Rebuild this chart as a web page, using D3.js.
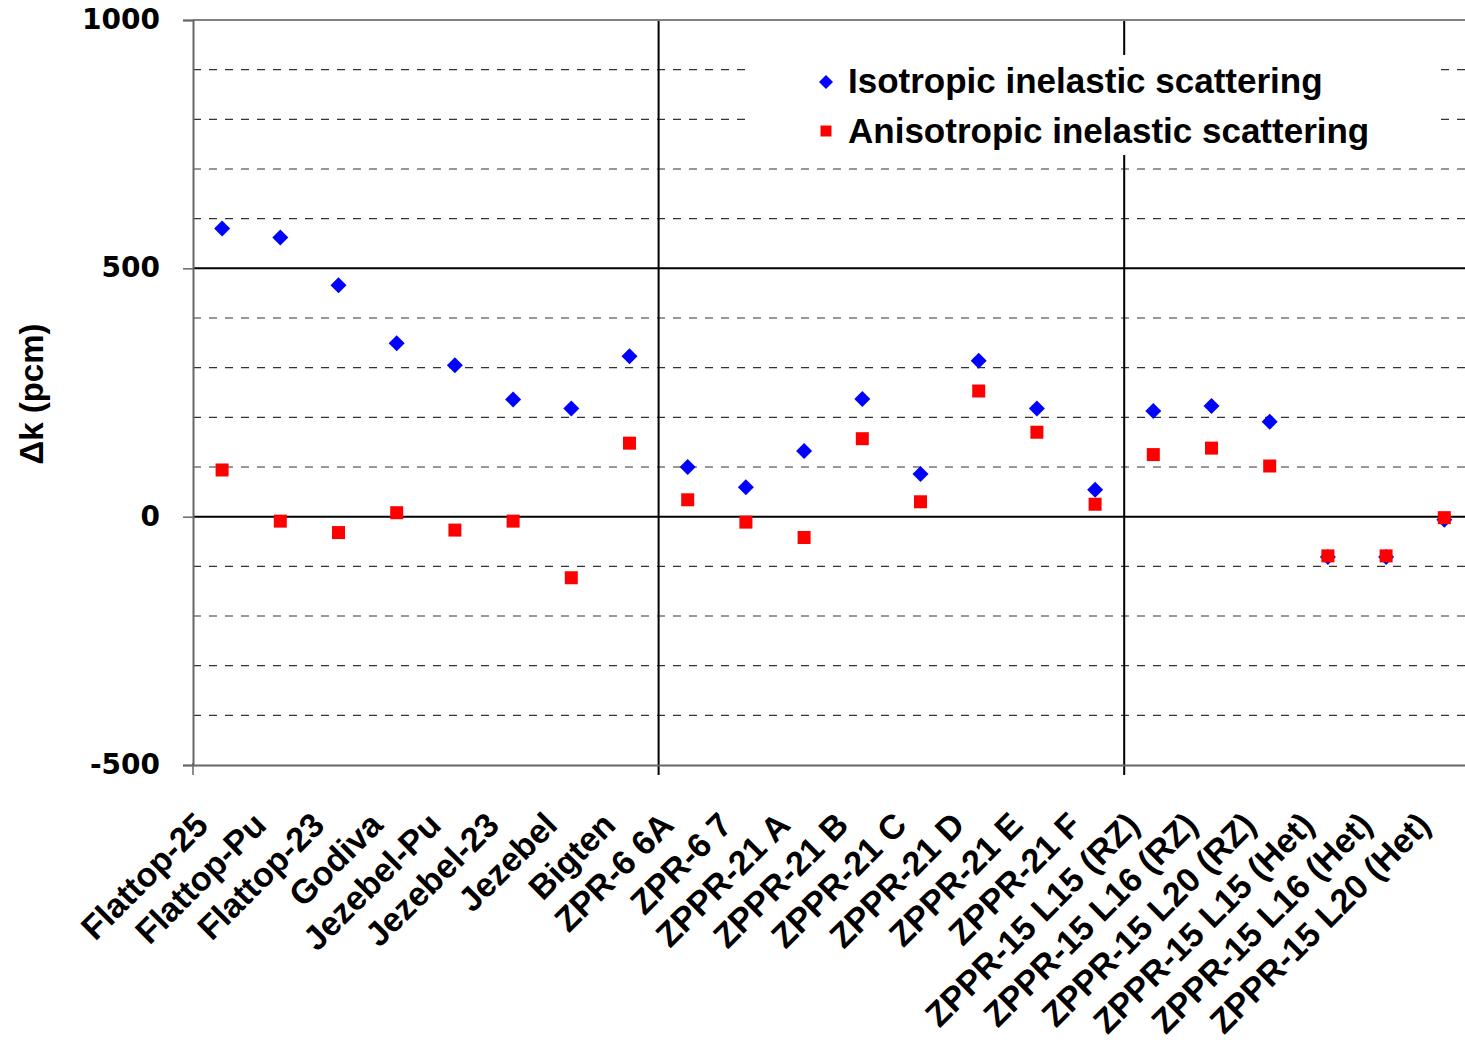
<!DOCTYPE html>
<html>
<head>
<meta charset="utf-8">
<script src="https://cdn.jsdelivr.net/npm/d3@7"></script>
<style>
  body { margin: 0; background: #fff; }
  text { font-family: "Liberation Sans", Arial, sans-serif; font-weight: bold; }
</style>
</head>
<body>
<div id="scatter"></div>
<script>
// data
var categories = ["Flattop-25", "Flattop-Pu", "Flattop-23", "Godiva", "Jezebel-Pu", "Jezebel-23",
    "Jezebel", "Bigten", "ZPR-6 6A", "ZPR-6 7", "ZPPR-21 A", "ZPPR-21 B", "ZPPR-21 C",
    "ZPPR-21 D", "ZPPR-21 E", "ZPPR-21 F", "ZPPR-15 L15 (RZ)", "ZPPR-15 L16 (RZ)",
    "ZPPR-15 L20 (RZ)", "ZPPR-15 L15 (Het)", "ZPPR-15 L16 (Het)", "ZPPR-15 L20 (Het)"];
var isotropic = [580, 562, 466, 349, 305, 236, 218, 323, 100, 59, 132, 237, 86, 314, 218, 54,
    213, 223, 191, -81, -81, -6];
var anisotropic = [94, -9, -32, 8, -27, -9, -123, 148, 34, -11, -42, 157, 30, 253, 170, 25,
    125, 138, 102, -79, -79, -2];
var yTicks = [-500, 0, 500, 1000];
var yMinor = [-400, -300, -200, -100, 100, 200, 300, 400, 600, 700, 800, 900];
var seriesNames = ["Isotropic inelastic scattering", "Anisotropic inelastic scattering"];

var margin = {top: 20, left: 193},
    band = 58.2,
    width = band * categories.length,
    height = 745;

var svg = d3.select("#scatter")
    .append("svg")
        .attr("width", 1465)
        .attr("height", 1046)
    .append("g")
        .attr("transform", "translate(" + margin.left + "," + margin.top + ")");

//scales
var x = d3.scaleBand()
    .domain(categories)
    .range([0, width]);
var y = d3.scaleLinear()
    .domain([-500, 1000])
    .range([height, 0]);

//minor dashed gridlines
svg.append("g")
    .selectAll("line")
    .data(yMinor)
    .enter()
    .append("line")
        .attr("x1", 0)
        .attr("x2", width)
        .attr("y1", function(d){ return y(d); })
        .attr("y2", function(d){ return y(d); })
        .attr("stroke", "#333")
        .attr("stroke-width", 1.2)
        .attr("stroke-dasharray", "8,8");

//major gridlines
svg.append("g")
    .selectAll("line")
    .data([0, 500])
    .enter()
    .append("line")
        .attr("x1", 0)
        .attr("x2", width)
        .attr("y1", function(d){ return y(d); })
        .attr("y2", function(d){ return y(d); })
        .attr("stroke", "#000")
        .attr("stroke-width", 2);

//vertical gridlines every 8 categories
var groupEdges = [categories[8], categories[16]];
svg.append("g")
    .selectAll("line")
    .data(groupEdges)
    .enter()
    .append("line")
        .attr("x1", function(d){ return x(d); })
        .attr("x2", function(d){ return x(d); })
        .attr("y1", 0)
        .attr("y2", height + 10)
        .attr("stroke", "#000")
        .attr("stroke-width", 2);

//top border
svg.append("line")
    .attr("x1", 0).attr("x2", width)
    .attr("y1", y(1000)).attr("y2", y(1000))
    .attr("stroke", "#808080")
    .attr("stroke-width", 2);

//y axis
var yAxis = svg.append("g")
    .call(d3.axisLeft(y).tickValues(yTicks).tickSize(10).tickPadding(23)
        .tickFormat(function(d){ return String(d); }));
yAxis.select(".domain").attr("stroke", "#666").attr("stroke-width", 2);
yAxis.selectAll(".tick line").attr("stroke", "#666").attr("stroke-width", 1.5);
yAxis.selectAll("text")
    .style("font-size", "28px")
    .style("font-family", "'DejaVu Sans', sans-serif")
    .style("font-weight", "bold")
    .attr("dy", "0.3em")
    .attr("fill", "#000");

//x axis
var xAxis = svg.append("g")
    .attr("transform", "translate(0," + height + ")")
    .call(d3.axisBottom(x).tickValues([]).tickSizeOuter(0));
xAxis.select(".domain").attr("stroke", "#666").attr("stroke-width", 2);
svg.append("g")
    .selectAll("line")
    .data([categories[0]])
    .enter()
    .append("line")
        .attr("x1", function(d){ return x(d); })
        .attr("x2", function(d){ return x(d); })
        .attr("y1", height - 2)
        .attr("y2", height + 10)
        .attr("stroke", "#666")
        .attr("stroke-width", 1.5);

//x labels rotated
svg.append("g")
    .selectAll("text")
    .data(categories)
    .enter()
    .append("text")
        .attr("transform", function(d){
            return "translate(" + (x(d) + x.bandwidth() / 2 - 12) + "," + (height + 62) + ") rotate(-45)";
        })
        .style("text-anchor", "end")
        .attr("font-size", "34px")
        .text(function(d){ return d; });

//y label
svg.append("text")
    .attr("transform", "translate(" + (43 - margin.left) + "," + (394 - margin.top) + ") rotate(-90)")
    .style("text-anchor", "middle")
    .attr("font-size", "33px")
    .text("\u0394k (pcm)");

//legend background
var legend = svg.append("g")
    .attr("transform", "translate(" + (752 - margin.left) + "," + (55 - margin.top) + ")");
legend.append("rect")
    .attr("width", 685)
    .attr("height", 100)
    .attr("fill", "#fff");

var diamond = d3.symbol().type(d3.symbolSquare).size(128);
var square = d3.symbol().type(d3.symbolSquare).size(169);

legend.append("path")
    .attr("d", d3.symbol().type(d3.symbolSquare).size(98)())
    .attr("transform", "translate(74,27) rotate(45)")
    .attr("fill", "#0000ff");
legend.append("path")
    .attr("d", d3.symbol().type(d3.symbolSquare).size(121)())
    .attr("transform", "translate(74,76)")
    .attr("fill", "#ff0000");
legend.selectAll("text.leg")
    .data(seriesNames)
    .enter()
    .append("text")
        .attr("class", "leg")
        .attr("x", 96)
        .attr("y", function(d, i){ return 38 + i * 50; })
        .attr("font-size", "35px")
        .text(function(d){ return d; });

//points
svg.append("g")
    .selectAll("path")
    .data(isotropic)
    .enter()
    .append("path")
        .attr("d", diamond)
        .attr("transform", function(d, i){
            return "translate(" + (x(categories[i]) + x.bandwidth() / 2) + "," + y(d) + ") rotate(45)";
        })
        .style("fill", "#0000ff");

svg.append("g")
    .selectAll("path")
    .data(anisotropic)
    .enter()
    .append("path")
        .attr("d", square)
        .attr("transform", function(d, i){
            return "translate(" + (x(categories[i]) + x.bandwidth() / 2) + "," + y(d) + ")";
        })
        .style("fill", "#ff0000");
</script>
</body>
</html>
